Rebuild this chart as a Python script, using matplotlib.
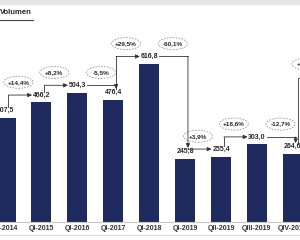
import numpy as np
import matplotlib.pyplot as plt
from matplotlib.patches import Ellipse, Rectangle
from matplotlib.lines import Line2D

quarters = ['QI-2014', 'QI-2015', 'QI-2016', 'QI-2017', 'QI-2018',
            'QI-2019', 'QII-2019', 'QIII-2019', 'QIV-2019']
volumen = [407.5, 466.2, 504.3, 476.4, 616.8, 245.8, 255.4, 303.0, 264.6]
cambios = ['+14,4%', '+8,2%', '-5,5%', '+29,5%', '-60,1%',
           '+3,9%', '+18,6%', '-12,7%']

navy = '#1f2b5f'
txt = '#262626'
plt.rcParams['font.family'] = ['Liberation Sans', 'DejaVu Sans']

fig = plt.figure(figsize=(3, 2.4), dpi=100)
ax = fig.add_axes([0, 18 / 240, 1, 222 / 240])

x = np.arange(len(quarters))
ax.bar(x, volumen, width=0.56, color=navy, zorder=2)
ax.set_xlim(-0.153, 8.2)
ax.set_ylim(0, 866)

for i, v in enumerate(volumen):
    ax.text(i, v + 29, f'{v:.1f}'.replace('.', ','), ha='center', va='center',
            fontsize=5, color=txt, fontweight='bold')

lk = dict(color='#333333', lw=0.6)
ak = dict(arrowstyle='-|>,head_length=0.25,head_width=0.12', color='#333333', lw=0.6,
          shrinkA=0, shrinkB=0)
for i in range(len(cambios)):
    a, b = volumen[i], volumen[i + 1]
    level = max(a, b) + 29
    if b > a:
        xs = i + 0.08
        ax.plot([xs, xs], [a + 41, level], **lk)
        ax.annotate('', xy=(i + 1 - 0.26, level), xytext=(xs, level), arrowprops=ak)
        ex = i + 0.36
    else:
        xe = i + 1.08
        ax.plot([i + 0.28, xe], [level, level], **lk)
        ax.annotate('', xy=(xe, b + 43), xytext=(xe, level), arrowprops=ak)
        ex = i + 0.66
    ax.add_patch(Ellipse((ex, level + 50), 0.81, 47, fill=False, ec='#9a9a9a',
                         lw=0.6, ls=(0, (2, 1.5))))
    ax.text(ex, level + 50, cambios[i], ha='center', va='center', fontsize=4.6,
            color=txt, fontweight='bold')

# next change, cut off on the right
ax.plot([8.15, 8.15, 8.4], [volumen[8] + 41, 562, 562], **lk)
ax.add_patch(Ellipse((8.38, 616), 0.81, 47, fill=False, ec='#9a9a9a',
                     lw=0.6, ls=(0, (2, 1.5))))
ax.text(8.12, 616, '+', ha='left', va='center', fontsize=4.6, color=txt,
        fontweight='bold')

ax.set_xticks(x)
ax.set_xticklabels(quarters, fontsize=5, color='#333333', fontweight='bold')
ax.tick_params(axis='x', length=0, pad=2)
ax.set_yticks([])
for s in ['top', 'left', 'right']:
    ax.spines[s].set_visible(False)
ax.spines['bottom'].set_color('#c8c8c8')
ax.spines['bottom'].set_linewidth(0.8)

fig.patches.append(Rectangle((0, 1 - 4 / 240), 1, 4 / 240, transform=fig.transFigure,
                             color='#e6e6e6', zorder=0))
fig.text(0.0, 1 - 12 / 240, 'Volumen', ha='left', va='center', fontsize=5.5,
         fontweight='bold', color=txt)
fig.lines.append(Line2D([0, 33 / 300], [1 - 20 / 240] * 2, transform=fig.transFigure,
                        color='#444444', lw=0.8))
fig.lines.append(Line2D([0, 1], [5 / 240] * 2, transform=fig.transFigure,
                        color='#dddddd', lw=0.8))

fig.savefig('out.png', dpi=100)
